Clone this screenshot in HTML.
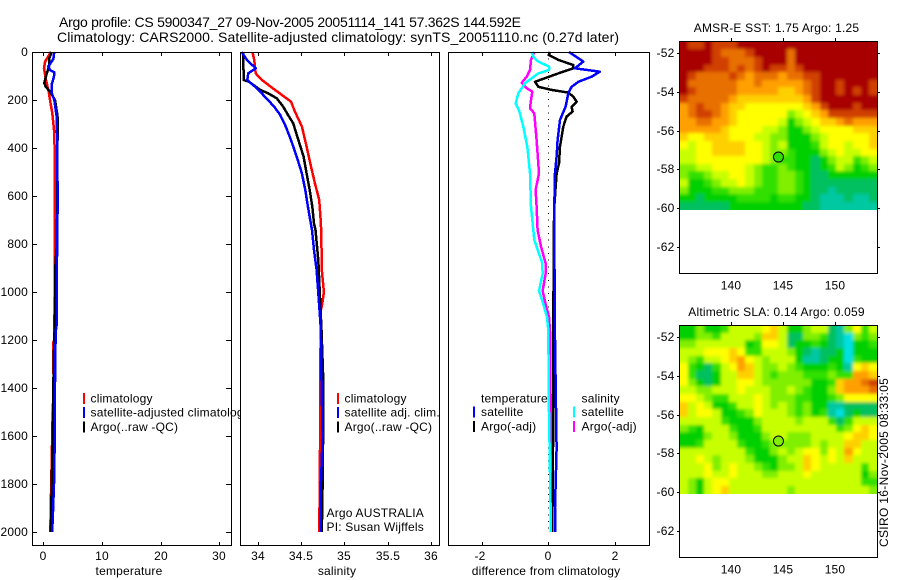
<!DOCTYPE html>
<html lang="en">
<head>
<meta charset="utf-8">
<title>Argo profile</title>
<style>
html,body{margin:0;padding:0;background:#fff;}
svg{display:block;}
text{font-family:"Liberation Sans",sans-serif;font-size:12px;letter-spacing:.2px;fill:#000;}
</style>
</head>
<body>
<svg id="chart" xmlns="http://www.w3.org/2000/svg" width="900" height="580" viewBox="0 0 900 580">
<defs>
<filter id="soften" x="-5%" y="-5%" width="110%" height="110%"><feGaussianBlur stdDeviation="1.7"/></filter>
</defs>
<rect x="0" y="0" width="900" height="580" fill="#fff"/>
<text x="59" y="27" style="font-size:14px;letter-spacing:0" textLength="462">Argo profile: CS 5900347_27 09-Nov-2005 20051114_141 57.362S 144.592E</text>
<text x="57" y="42" style="font-size:14px;letter-spacing:0" textLength="562">Climatology: CARS2000. Satellite-adjusted climatology: synTS_20051110.nc (0.27d later)</text>
<text x="776.5" y="32" text-anchor="middle">AMSR-E SST: 1.75 Argo: 1.25</text>
<text x="776.5" y="316" text-anchor="middle">Altimetric SLA: 0.14 Argo: 0.059</text>
<text transform="translate(888,547) rotate(-90)" textLength="169">CSIRO 16-Nov-2005 08:33:05</text>
<g id="layer"></g>
</svg>
<script>
// ---- axis ticks ----
const depthTicks = [0,200,400,600,800,1000,1200,1400,1600,1800,2000];
const tempTicks = [0,10,20,30];
const salTicks = [34,34.5,35,35.5,36];
const diffTicks = [-2,0,2];
const lonTicks = [140,145,150];
const latTicks = [-52,-54,-56,-58,-60,-62];

// ---- temperature panel ----
const tempClimDepth = [0,40,68,117,165,200,255,325,408,617,1100,1200,1210,1400,1500,1700,1900,2000];
const tempClim = [1.3,0.3,0.12,0.46,0.92,1.14,1.53,1.82,1.94,2.0,1.9,1.85,1.7,1.75,1.6,1.43,1.26,1.2];
const tempSatDepth = [0,30,60,75,85,105,130,170,200,270,400,600,770,800,1150,1160,1350,1400,1550,1800,1950,2000];
const tempSat = [1.87,1.7,0.85,1.14,1.87,1.8,1.48,1.42,1.87,2.28,2.39,2.43,2.4,2.35,2.25,2.1,2.05,1.95,2.0,1.82,1.6,1.5];
const tempArgoDepth = [0,30,60,90,130,145,165,200,260,290,400,550,800,900,1150,1200,1400,1600,1800,2000];
const tempArgo = [1.43,0.97,0.97,0.58,0.17,0.43,1.14,2.0,2.39,2.5,2.39,2.39,2.3,2.05,1.95,1.85,1.7,1.6,1.43,1.3];

// ---- salinity panel ----
const salClimDepth = [0,33,89,117,158,207,248,311,394,477,547,616,714,783,908,1000,1050,1075,1400,1600,1800,2000];
const salClim = [33.94,33.96,33.977,34.05,34.2,34.385,34.43,34.51,34.565,34.615,34.66,34.71,34.73,34.735,34.74,34.765,34.745,34.73,34.72,34.72,34.717,34.71];
const salArgoDepth = [0,117,124,158,172,193,228,262,297,367,436,506,575,644,714,742,867,1033,1158,1346,1600,1800,2000];
const salArgo = [33.83,33.84,33.9,34.03,34.12,34.22,34.295,34.35,34.41,34.47,34.53,34.565,34.6,34.63,34.65,34.667,34.7,34.72,34.737,34.755,34.755,34.75,34.74];
const salSatDepth = [0,33,68,89,117,151,193,228,262,311,367,436,506,575,644,742,825,908,1033,1158,1346,1600,1800,2000];
const salSat = [33.815,33.875,33.977,33.89,33.88,33.99,34.1,34.19,34.26,34.325,34.385,34.45,34.51,34.55,34.58,34.627,34.65,34.68,34.705,34.73,34.735,34.75,34.73,34.73];

// ---- difference panel ----
const diffTempSatDepth = [0,40,68,82,103,124,145,172,228,283,367,436,506,644,783,1200,1650,1900,2000];
const diffTempSat = [0.62,1.05,0.8,1.55,1.3,0.9,0.7,0.6,0.52,0.35,0.28,0.25,0.2,0.18,0.18,0.2,0.25,0.2,0.2];
const diffTempArgoDepth = [0,12,33,54,68,89,124,145,158,169,186,207,228,248,269,311,394,464,506,644,783,1500,2000];
const diffTempArgo = [0.05,0.01,0.3,0.75,0.75,0.3,-0.4,-0.3,0.1,0.6,0.75,0.85,0.7,0.73,0.55,0.45,0.35,0.32,0.25,0.18,0.16,0.15,0.12];
const diffSalSatDepth = [0,19,40,61,75,89,130,172,214,242,311,394,506,644,783,811,880,925,995,1050,1105,1160,1500,2000];
const diffSalSat = [-0.5,-0.45,-0.3,0.02,0.02,-0.3,-0.7,-0.9,-0.98,-0.88,-0.75,-0.63,-0.55,-0.52,-0.42,-0.35,-0.18,-0.17,-0.28,-0.15,-0.04,0,0.02,0.08];
const diffSalArgoDepth = [0,33,75,103,128,151,165,200,235,255,367,506,575,644,742,811,880,925,995,1050,1105,1160,1680];
const diffSalArgo = [-0.42,-0.52,-0.55,-0.65,-0.8,-0.65,-0.48,-0.52,-0.55,-0.42,-0.35,-0.28,-0.38,-0.35,-0.32,-0.22,-0.08,-0.08,-0.17,-0.08,0.02,0.05,0.08];

// ---- map fields, colour-scale level per cell, north to south ----
const sstRows = [
[12,11,11,12,11,11,11,12,12,12,12,12,12,12,12,12,12,12,12,12,12,12,12,12],
[12,12,12,12,11,10,10,10,11,12,12,12,12,10,12,12,12,12,12,12,12,12,12,12],
[12,12,12,12,11,11,10,10,10,11,12,12,12,10,12,12,12,12,12,12,12,12,12,12],
[12,12,12,11,11,11,10,11,10,11,12,11,11,10,11,12,12,12,12,12,12,12,12,12],
[12,11,10,10,10,10,11,10,9,10,10,10,9,10,10,11,11,12,12,12,12,12,12,12],
[12,10,10,10,10,10,10,9,9,10,9,9,9,9,9,10,11,12,12,11,12,12,12,11],
[12,11,10,10,10,10,10,9,9,9,9,9,8,8,9,10,11,12,12,11,12,11,12,11],
[11,10,10,10,10,10,9,8,8,8,8,8,8,8,8,9,11,12,12,12,12,12,12,12],
[9,10,11,10,10,9,8,8,7,7,7,7,7,7,7,8,9,11,12,12,12,11,12,12],
[9,10,11,11,10,9,8,7,7,7,7,7,7,5,6,7,8,9,11,11,11,11,11,11],
[9,9,10,10,9,9,8,7,7,7,7,7,6,3,5,6,7,8,8,9,10,9,9,9],
[9,9,9,9,9,8,7,7,7,7,6,6,5,3,3,5,6,7,7,7,7,8,8,8],
[8,7,7,8,8,8,7,7,7,6,6,5,5,3,3,3,5,6,7,7,7,7,7,8],
[7,6,7,7,8,8,8,8,7,7,6,5,6,3,3,3,4,6,7,7,6,7,7,8],
[6,6,7,7,8,8,8,8,7,7,6,5,5,4,3,3,3,5,6,7,6,6,7,7],
[6,6,7,7,7,7,7,7,7,7,6,5,4,4,3,3,2,3,5,6,6,4,5,6],
[5,5,6,6,7,7,7,7,6,5,4,4,5,4,3,3,2,3,4,6,5,3,4,5],
[5,4,4,5,6,6,7,7,6,5,4,4,5,5,4,3,2,2,3,3,3,3,3,3],
[6,3,3,4,5,6,6,7,6,5,4,4,5,5,4,3,2,2,2,2,2,2,2,2],
[5,3,3,3,4,4,5,5,5,4,4,4,5,5,4,3,2,2,1,2,2,2,2,2],
[3,3,2,3,3,3,3,4,4,4,4,3,4,4,3,3,2,1,1,1,2,1,1,2],
[2,2,2,2,2,2,3,3,3,3,3,3,3,3,3,2,2,1,1,1,1,1,1,1]
];
const slaRows = [
[3,3,5,3,3,4,6,6,6,6,7,8,6,3,3,5,6,6,2,1,5,7,4,6],
[3,3,5,5,4,6,6,6,6,5,8,8,6,2,2,5,5,4,2,1,0,5,4,5],
[5,5,6,6,6,6,6,6,3,4,7,7,6,2,3,3,4,3,2,1,0,3,3,4],
[6,6,6,7,7,7,8,7,4,4,6,6,6,5,3,2,1,2,2,3,0,3,3,3],
[6,5,4,6,6,7,8,9,7,6,5,6,6,6,3,1,1,2,3,3,0,4,3,3],
[7,4,3,2,4,6,7,9,8,6,5,5,6,5,4,3,3,3,4,3,1,7,8,7],
[7,4,2,2,3,6,6,8,8,6,5,4,5,5,5,4,4,4,5,4,4,9,9,8],
[7,5,3,2,3,6,6,7,7,6,5,5,5,5,5,5,3,3,4,8,9,9,10,11],
[6,6,5,5,6,6,6,7,6,6,6,5,5,6,5,4,3,3,5,8,9,9,9,10],
[7,7,6,5,4,4,6,6,6,7,6,5,5,5,4,4,3,3,4,5,7,7,7,7],
[8,6,7,6,3,3,4,6,6,7,6,5,6,5,4,5,3,3,1,1,2,2,2,2],
[8,6,7,7,6,3,3,4,5,7,6,6,6,5,4,5,3,4,1,0,2,3,2,2],
[6,6,6,6,6,4,3,3,3,5,6,6,6,6,5,6,6,6,4,2,4,6,6,6],
[5,4,3,6,6,6,4,3,3,4,6,6,6,6,6,6,6,6,6,4,5,7,8,7],
[3,3,3,5,6,6,5,3,3,3,5,6,6,5,5,5,6,6,6,6,7,8,8,7],
[3,3,4,6,6,6,6,4,3,3,4,5,5,5,5,5,6,5,6,6,8,8,6,6],
[6,6,6,6,6,6,6,6,4,3,3,5,6,5,6,7,7,5,7,6,9,7,6,6],
[6,6,7,6,5,6,6,6,5,3,3,3,5,6,6,8,7,6,7,6,8,6,6,6],
[6,6,6,7,5,6,7,6,6,5,4,3,5,5,6,8,7,6,6,6,6,6,4,6],
[6,6,6,7,6,6,7,6,6,6,5,5,6,6,6,7,6,6,6,6,6,6,3,5],
[6,5,3,6,7,7,6,6,6,6,6,6,6,6,6,6,6,6,6,6,6,6,4,4],
[6,5,3,6,7,8,6,6,6,6,6,6,6,5,6,6,6,6,6,6,6,6,6,5]
];
const argoLon = 144.592;
const argoLat = -57.362;
const sstArgoLevel = 4;
const slaArgoLevel = 5;
const palette = ['#00e0e0','#00c8a0','#00c060','#00d000','#30e000','#80f000','#c8ff00','#ffff00','#ffd000','#ffa000','#e87000','#d04000','#a80000'];

// ---- legends ----
const tempLegendLabels = ['climatology','satellite-adjusted climatology','Argo(..raw -QC)'];
const salLegendLabels = ['climatology','satellite adj. clim.','Argo(..raw -QC)'];

// ---- axis functions ----
const yDepth = d => 52 + 0.24 * d;
const xTemp = v => 43.3 + 5.87 * v;
const xSal = v => 257.7 + 86.6 * (v - 34);
const xDiff = v => 548.3 + 33.3 * v;
const xLon = v => 730.7 + 10.4 * (v - 140);
const yLatA = v => 53.3 + 19.35 * (-52 - v);
const yLatB = v => 337.3 + 19.35 * (-52 - v);

const layer = document.getElementById('layer');
const NS = 'http://www.w3.org/2000/svg';
function mk(tag, attrs, parent) {
  const e = document.createElementNS(NS, tag);
  for (const k in attrs) e.setAttribute(k, attrs[k]);
  (parent || layer).appendChild(e);
  return e;
}
function panelFrame(name, x0, x1, y0, y1) {
  const bg = mk('rect', {x:x0, y:y0, width:x1-x0, height:y1-y0, fill:'#fff'});
  
  
}
function panelBorder(name, x0, x1, y0, y1) {
  const b = mk('rect', {x:x0+0.5, y:y0+0.5, width:x1-x0, height:y1-y0, fill:'none', stroke:'#000', 'stroke-width':1, 'shape-rendering':'crispEdges'});
  
  
}
function tickLine(name, x1, y1, x2, y2) {
  const t = mk('line', {x1:x1, y1:y1, x2:x2, y2:y2, stroke:'#000', 'stroke-width':1, 'shape-rendering':'crispEdges'});
  
  
}
function label(name, x, y, txt, anchor) {
  const t = mk('text', {x:x, y:y, 'text-anchor':anchor || 'start'});
  t.textContent = txt;
  
  
  return t;
}
function profile(name, depths, values, xf, colour) {
  const pts = depths.map((d, i) => xf(values[i]).toFixed(1) + ',' + yDepth(d).toFixed(1)).join(' ');
  const p = mk('polyline', {points:pts, fill:'none', stroke:colour, 'stroke-width':2.5, 'stroke-linejoin':'round', 'shape-rendering':'crispEdges'});
  
  
}
function legendBar(name, x, yc, colour) {
  const r = mk('rect', {x:x, y:yc-5.5, width:2, height:11, fill:colour, 'shape-rendering':'crispEdges'});
  
  
}
function xAxis(name, ticks, xf) {
  ticks.forEach(v => {
    const px = Math.round(xf(v));
    tickLine(name + '-top-tick', px+0.5, 52, px+0.5, 56);
    tickLine(name + '-bottom-tick', px+0.5, 542, px+0.5, 545);
    label(name + '-tick-label', v < 0 ? px - 2 : px, 560, String(v), 'middle');
  });
}

// Panel 1: temperature
panelFrame('temperature-panel', 32, 231, 52, 545);
profile('temperature-climatology-line', tempClimDepth, tempClim, xTemp, '#ff0000');
profile('temperature-argo-line', tempArgoDepth, tempArgo, xTemp, '#000000');
profile('temperature-satellite-line', tempSatDepth, tempSat, xTemp, '#0000ff');
panelBorder('temperature-panel', 32, 231, 52, 545);
depthTicks.forEach(d => {
  const py = Math.round(yDepth(d));
  tickLine('depth-left-tick', 32, py+0.5, 37, py+0.5);
  tickLine('depth-right-tick', 226, py+0.5, 231, py+0.5);
  label('depth-tick-label', 28, py+4, String(d), 'end');
});
xAxis('temperature-axis', tempTicks, xTemp);
label('temperature-axis-title', 129, 575, 'temperature', 'middle');
['#ff0000','#0000ff','#000000'].forEach((c, i) => {
  legendBar('temperature-legend-swatch', 83, 398.5 + i * 14.2, c);
  label('temperature-legend-label', 90.5, 402.5 + i * 14.2, tempLegendLabels[i]);
});

// Panel 2: salinity (painted over the overflowing legend text)
panelFrame('salinity-panel', 240, 439, 52, 545);
profile('salinity-climatology-line', salClimDepth, salClim, xSal, '#ff0000');
profile('salinity-argo-line', salArgoDepth, salArgo, xSal, '#000000');
profile('salinity-satellite-line', salSatDepth, salSat, xSal, '#0000ff');
panelBorder('salinity-panel', 240, 439, 52, 545);
xAxis('salinity-axis', salTicks, xSal);
label('salinity-axis-title', 337, 575, 'salinity', 'middle');
['#ff0000','#0000ff','#000000'].forEach((c, i) => {
  legendBar('salinity-legend-swatch', 337, 398.5 + i * 14.2, c);
  label('salinity-legend-label', 344.5, 402.5 + i * 14.2, salLegendLabels[i]);
});
label('argo-country-label', 326.5, 517, 'Argo AUSTRALIA');
label('principal-investigator-label', 326.5, 531, 'PI: Susan Wijffels');

// Panel 3: differences
panelFrame('difference-panel', 448, 649, 52, 545);
const zeroLine = mk('line', {x1:xDiff(0), y1:yDepth(0), x2:xDiff(0), y2:yDepth(2000), stroke:'#000', 'stroke-width':1, 'stroke-dasharray':'1 5.7', 'shape-rendering':'crispEdges'});


profile('difference-temperature-argo-line', diffTempArgoDepth, diffTempArgo, xDiff, '#000000');
profile('difference-temperature-satellite-line', diffTempSatDepth, diffTempSat, xDiff, '#0000ff');
profile('difference-salinity-argo-line', diffSalArgoDepth, diffSalArgo, xDiff, '#ff00ff');
profile('difference-salinity-satellite-line', diffSalSatDepth, diffSalSat, xDiff, '#00ffff');
panelBorder('difference-panel', 448, 649, 52, 545);
xAxis('difference-axis', diffTicks, xDiff);
label('difference-axis-title', 546, 575, 'difference from climatology', 'middle');
label('difference-legend-temperature-heading', 481, 402.5, 'temperature');
label('difference-legend-salinity-heading', 581.5, 402.5, 'salinity');
legendBar('difference-legend-swatch', 473, 412, '#0000ff');
label('difference-legend-label', 481, 416, 'satellite');
legendBar('difference-legend-swatch', 473, 426.5, '#000000');
label('difference-legend-label', 481, 430.5, 'Argo(-adj)');
legendBar('difference-legend-swatch', 573, 412, '#00ffff');
label('difference-legend-label', 581.5, 416, 'satellite');
legendBar('difference-legend-swatch', 573, 426.5, '#ff00ff');
label('difference-legend-label', 581.5, 430.5, 'Argo(-adj)');

// Maps
function drawMap(name, rows, yLat, top, bottom, latTop, argoLevel) {
  const lonL = 140 + (679.3 - 730.7) / 10.4;
  const lonR = 140 + (877.3 - 730.7) / 10.4;
  const latBottom = -60.08;
  const nR = rows.length;
  const clipId = name + '-clip';
  const clip = mk('clipPath', {id:clipId});
  
  
  const clipRect = mk('rect', {x:679, y:top, width:198, height:Math.round(yLat(latBottom)) - top}, clip);
  
  
  const outer = mk('g', {'clip-path':'url(#' + clipId + ')'});
  
  
  const inner = mk('g', {filter:'url(#soften)'}, outer);
  
  
  const pad = 10;
  rows.forEach((row, r) => {
    const nC = row.length;
    row.forEach((v, c) => {
      let xa = Math.round(xLon(lonL + (lonR - lonL) * c / nC));
      let xb = Math.round(xLon(lonL + (lonR - lonL) * (c + 1) / nC));
      let ya = Math.round(yLat(latTop + (latBottom - latTop) * r / nR));
      let yb = Math.round(yLat(latTop + (latBottom - latTop) * (r + 1) / nR));
      if (c === 0) xa -= pad;
      if (c === nC - 1) xb += pad;
      if (r === 0) ya -= pad;
      if (r === nR - 1) yb += pad;
      const lvl = Math.max(0, Math.min(palette.length - 1, Math.round(v)));
      const cell = mk('rect', {x:xa, y:ya, width:xb-xa, height:yb-ya, fill:palette[lvl], 'shape-rendering':'crispEdges'}, inner);
      
      
    });
  });
  panelBorder(name, 679, 877, top, bottom);
  lonTicks.forEach(v => {
    const px = Math.round(xLon(v));
    tickLine(name + '-lon-tick', px+0.5, top-3, px+0.5, top);
    label(name + '-lon-label', px, bottom + 16.5, String(v), 'middle');
  });
  latTicks.forEach(v => {
    const py = Math.round(yLat(v));
    tickLine(name + '-lat-left-tick', 677, py+0.5, 679, py+0.5);
    tickLine(name + '-lat-right-tick', 878, py+0.5, 880, py+0.5);
    label(name + '-lat-label', 674.5, py+4, String(v), 'end');
  });
  const dot = mk('circle', {cx:xLon(argoLon), cy:yLat(argoLat), r:5, fill:palette[Math.round(argoLevel)], stroke:'#000', 'stroke-width':1});
  
  
}
drawMap('sst-map', sstRows, yLatA, 41, 273, -51.4, sstArgoLevel);
drawMap('sla-map', slaRows, yLatB, 325, 557, -51.36, slaArgoLevel);
</script>
</body>
</html>
